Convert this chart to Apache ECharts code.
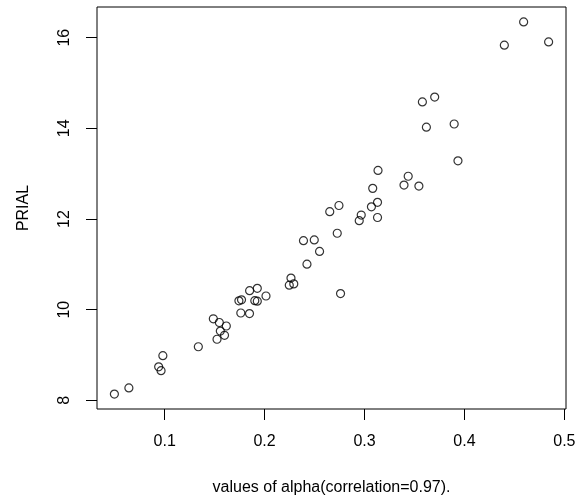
<!DOCTYPE html>
<html>
<head>
<meta charset="utf-8">
<script src="https://cdn.jsdelivr.net/npm/echarts@6/dist/echarts.min.js"></script>
<style>
  html, body { margin: 0; padding: 0; background: #fff; }
  #chart { width: 588px; height: 504px; }
</style>
</head>
<body>
<div id="chart"></div>
<script>
// values
const alpha = [
  0.0497, 0.0642, 0.0940, 0.0964, 0.0982, 0.1337, 0.1487, 0.1547, 0.1617, 0.1557,
  0.1599, 0.1524, 0.1743, 0.1769, 0.1762, 0.1849, 0.1850, 0.1927, 0.1902, 0.1927,
  0.2014, 0.2264, 0.2247, 0.2292, 0.2389, 0.2497, 0.2550, 0.2424, 0.2760, 0.2727,
  0.2652, 0.2744, 0.2947, 0.2967, 0.3069, 0.3130, 0.3130, 0.3082, 0.3135, 0.3395,
  0.3437, 0.3544, 0.3579, 0.3702, 0.3619, 0.3897, 0.3935, 0.4399, 0.4592, 0.4842
];
const prial = [
  8.137, 8.273, 8.738, 8.654, 8.984, 9.182, 9.799, 9.717, 9.640, 9.528,
  9.435, 9.347, 10.195, 10.217, 9.926, 9.913, 10.420, 10.470, 10.199, 10.188,
  10.301, 10.697, 10.541, 10.569, 11.523, 11.538, 11.285, 11.003, 10.356, 11.686,
  12.161, 12.298, 11.963, 12.088, 12.269, 12.368, 12.033, 12.676, 13.073, 12.749,
  12.943, 12.727, 14.583, 14.691, 14.026, 14.096, 13.284, 15.836, 16.349, 15.908
];
const xTicks = [0.1, 0.2, 0.3, 0.4, 0.5];
const yTicks = [8, 10, 12, 14, 16];

const font = "'Liberation Sans', Arial, sans-serif";
const points = alpha.map((a, i) => [a, prial[i]]);

const chart = echarts.init(document.getElementById("chart"), null, { renderer: "canvas" });
chart.setOption({
  backgroundColor: "#fff",
  animation: false,
  grid: {
    left: 97,
    right: 22,
    top: 7,
    bottom: 95,
    show: true,
    borderColor: "#000",
    borderWidth: 1,
    backgroundColor: "transparent",
  },
  xAxis: {
    type: "value",
    min: 0.0323,
    max: 0.5016,
    name: "values of alpha(correlation=0.97).",
    nameLocation: "middle",
    nameGap: 71,
    nameTextStyle: { fontFamily: font, fontSize: 16, color: "#000" },
    axisLine: { show: false },
    splitLine: { show: false },
    axisTick: {
      show: true,
      length: 11,
      customValues: xTicks,
      lineStyle: { color: "#000", width: 1 },
    },
    axisLabel: {
      customValues: xTicks,
      margin: 25,
      fontFamily: font,
      fontSize: 16,
      color: "#000",
      formatter: (v) => String(v),
    },
  },
  yAxis: {
    type: "value",
    min: 7.8085,
    max: 16.6775,
    name: "PRIAL",
    nameLocation: "middle",
    nameRotate: 90,
    nameGap: 65,
    nameTextStyle: { fontFamily: font, fontSize: 16, color: "#000" },
    axisLine: { show: false },
    splitLine: { show: false },
    axisTick: {
      show: true,
      length: 11,
      customValues: yTicks,
      lineStyle: { color: "#000", width: 1 },
    },
    axisLabel: {
      customValues: yTicks,
      rotate: 90,
      margin: 24,
      fontFamily: font,
      fontSize: 16,
      color: "#000",
    },
  },
  series: [
    {
      type: "scatter",
      data: points,
      symbol: "circle",
      symbolSize: 8,
      itemStyle: {
        color: "transparent",
        borderColor: "#000",
        borderWidth: 1.2,
      },
    },
  ],
});
</script>
</body>
</html>
